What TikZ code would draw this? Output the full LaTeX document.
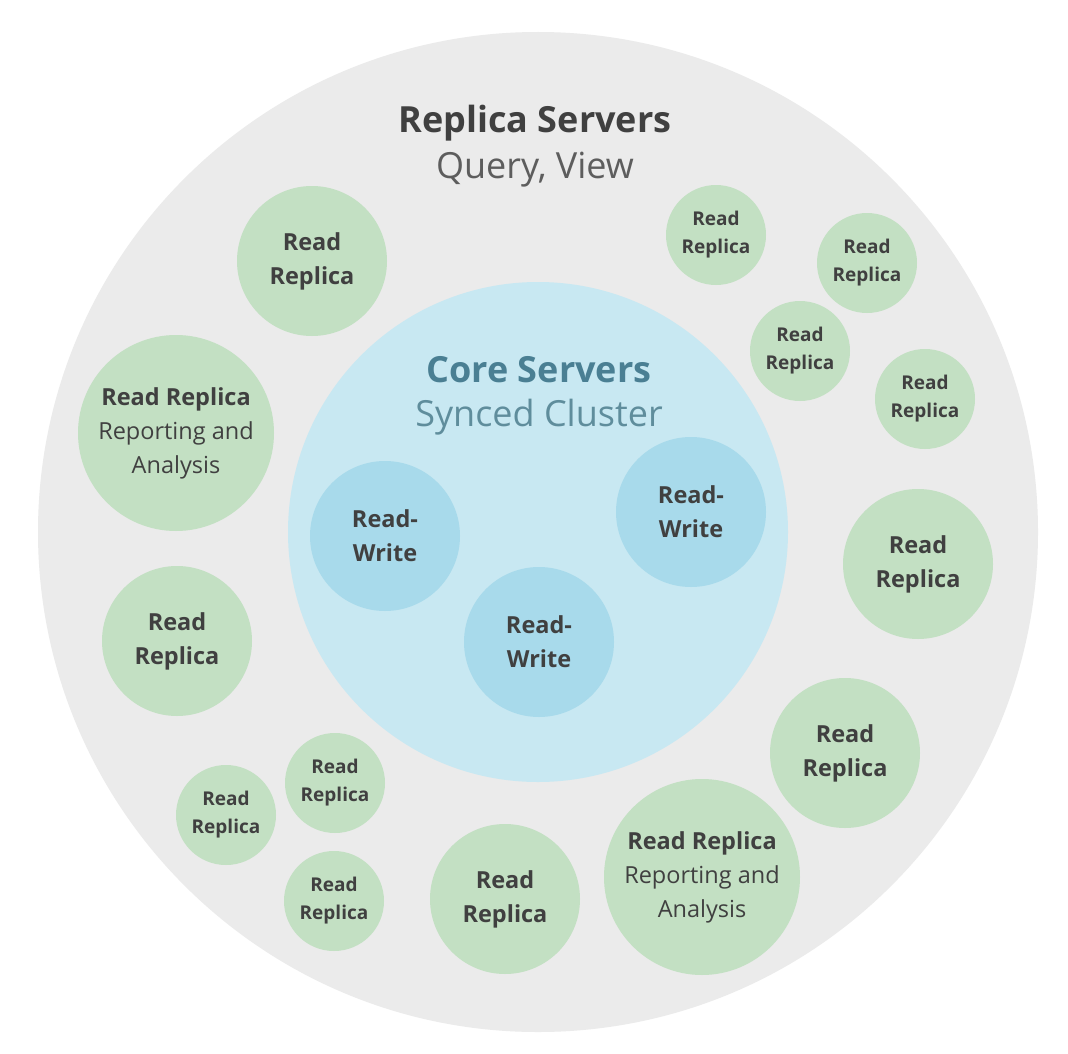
\documentclass[tikz,border=0pt]{standalone}
\usepackage{fontspec}
\setmainfont{Open Sans}
\definecolor{outerbg}{HTML}{EBEBEB}
\definecolor{corebg}{HTML}{C8E8F2}
\definecolor{rwbg}{HTML}{A8DAEB}
\definecolor{greenbg}{HTML}{C3E0C3}
\definecolor{txt}{HTML}{404040}
\definecolor{coretxt}{HTML}{4A7F93}
\definecolor{coresub}{HTML}{5F8D9C}
\tikzset{
  circbase/.style={circle, inner sep=0pt, align=center, text=txt},
  bigc/.style={circbase, fill=greenbg, minimum size=150pt, font=\fontsize{23.5}{34}\selectfont\bfseries},
  smallc/.style={circbase, fill=greenbg, minimum size=100pt, font=\fontsize{19}{28}\selectfont\bfseries},
  repc/.style={circbase, fill=greenbg, minimum size=196pt, font=\fontsize{23.5}{34}\selectfont},
  rwc/.style={circbase, fill=rwbg, minimum size=150pt, font=\fontsize{23.5}{34}\selectfont\bfseries},
  titlefont/.style={font=\fontsize{36}{40}\selectfont},
  titlebold/.style={font=\fontsize{36}{40}\selectfont\bfseries},
}
\begin{document}
\begin{tikzpicture}[x=1pt,y=-1pt]
\useasboundingbox (0,0) rectangle (1068,1054);
\fill[white] (0,0) rectangle (1068,1054);
\node[circle, fill=outerbg, minimum size=1000pt, inner sep=0pt] (outer) at (538,532) {};
\node[circle, fill=corebg, minimum size=500pt, inner sep=0pt] (core) at (538,532) {};
% titles
\node[text=txt, titlebold] (rstitle) at (535,123) {Replica Servers};
\node[text=txt!85, titlefont] (rssub) at (535,170) {Query, View};
\node[text=coretxt, titlebold] (cstitle) at (539,370) {Core Servers};
\node[text=coresub, titlefont] (cssub) at (539,417) {Synced Cluster};
% read-write
\node[rwc] (rw1) at (385,536) {Read-\\Write};
\node[rwc] (rw2) at (691,512) {Read-\\Write};
\node[rwc] (rw3) at (539,642) {Read-\\Write};
% big read replicas
\node[bigc] (r1) at (312,261) {Read\\Replica};
\node[bigc] (r2) at (177,641) {Read\\Replica};
\node[bigc] (r3) at (505,899) {Read\\Replica};
\node[bigc] (r4) at (845,753) {Read\\Replica};
\node[bigc] (r5) at (918,564) {Read\\Replica};
% reporting
\node[repc] (rep1) at (176,433) {\textbf{Read Replica}\\Reporting and\\Analysis};
\node[repc] (rep2) at (702,877) {\textbf{Read Replica}\\Reporting and\\Analysis};
% small
\node[smallc] (s1) at (226,815) {Read\\Replica};
\node[smallc] (s2) at (335,783) {Read\\Replica};
\node[smallc] (s3) at (334,901) {Read\\Replica};
\node[smallc] (s4) at (925,399) {Read\\Replica};
\node[smallc] (s5) at (800,351) {Read\\Replica};
\node[smallc] (s6) at (867,263) {Read\\Replica};
\node[smallc] (s7) at (716,235) {Read\\Replica};
\end{tikzpicture}
\end{document}
